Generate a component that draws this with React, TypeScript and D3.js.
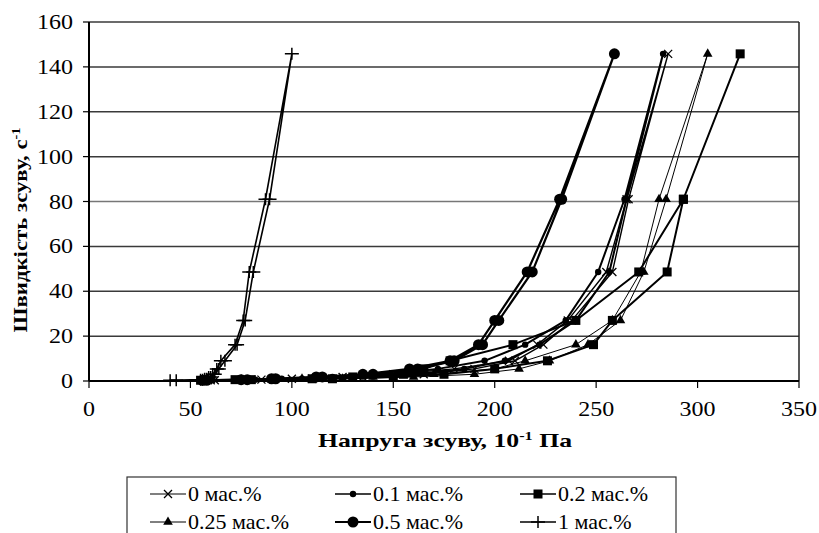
import React from 'react';
import * as d3 from 'd3';

// shear rates, s^-1 (up then down)
const rateUp = [0.333, 0.6, 1, 1.8, 3, 5.4, 9, 16.2, 27, 48.6, 81, 145.8];
const rateDown = [81, 48.6, 27, 16.2, 9, 5.4, 3, 1.8, 1, 0.6, 0.333];

// shear stress, 10^-1 Pa
const s0Up = [60, 80, 100, 125, 150, 180, 207, 221, 236, 255, 265, 285.5];
const s0Down = [266, 258, 238, 224, 210, 190, 165, 135, 110, 85, 62];
const s01Up = [58, 78, 95, 120, 145, 172, 195, 215, 235, 251, 264, 283];
const s01Down = [265, 256.5, 240, 222, 205, 185, 160, 130, 105, 82, 60];
const s02Up = [55, 72, 110, 130, 155, 165, 178, 209, 240, 271, 293, 321];
const s02Down = [293, 285, 258, 248.7, 226, 200, 175, 150, 120, 80, 57];
const s025Up = [57, 75, 105, 140, 170, 200, 215, 240, 258, 272, 281, 305];
const s025Down = [284.5, 273.5, 262, 246, 227, 212, 190, 160, 125, 90, 60];
const s05Up = [56, 75, 90, 112, 135, 158, 178, 192, 200, 216, 232, 259];
const s05Down = [233, 218.5, 202, 194, 180, 162, 140, 115, 92, 78, 58];
const s1Up = [40, 55, 57, 59, 61, 63, 65, 72, 76, 79, 87, 100];
const s1Down = [89, 81, 77, 73, 67, 64, 62, 60, 58, 56, 43];

const seriesNames = ['0 мас.%', '0.1 мас.%', '0.2 мас.%', '0.25 мас.%', '0.5 мас.%', '1 мас.%'];
const xTicks = [0, 50, 100, 150, 200, 250, 300, 350];
const yTicks = [0, 20, 40, 60, 80, 100, 120, 140, 160];

const W = 819;
const H = 533;
const serif = '"Liberation Serif", "Times New Roman", serif';

const x = d3.scaleLinear().domain([0, 350]).range([89, 799]);
const y = d3.scaleLinear().domain([0, 160]).range([381, 22]);

const build = (up: number[], down: number[]) => [
  ...up.map((s, i) => [s, rateUp[i]]),
  ...down.map((s, i) => [s, rateDown[i]]),
] as [number, number][];

const series = [
  { name: seriesNames[0], pts: build(s0Up, s0Down), marker: 'x', sw: 1.4 },
  { name: seriesNames[1], pts: build(s01Up, s01Down), marker: 'dot', sw: 2 },
  { name: seriesNames[2], pts: build(s02Up, s02Down), marker: 'square', sw: 2 },
  { name: seriesNames[3], pts: build(s025Up, s025Down), marker: 'tri', sw: 1 },
  { name: seriesNames[4], pts: build(s05Up, s05Down), marker: 'circle', sw: 2.2 },
  { name: seriesNames[5], pts: build(s1Up, s1Down), marker: 'plus', sw: 1.6 },
];

const Marker = ({ type, cx, cy }: { type: string; cx: number; cy: number }) => {
  const t = `translate(${cx},${cy})`;
  if (type === 'x') return <path transform={t} d="M-4,-4L4,4M-4,4L4,-4" stroke="#000" strokeWidth={1.3} fill="none" />;
  if (type === 'plus') return <path transform={t} d="M-7,0H7M0,-6V6" stroke="#000" strokeWidth={1.5} fill="none" />;
  if (type === 'dot') return <circle cx={cx} cy={cy} r={3.2} fill="#000" />;
  if (type === 'circle') return <circle cx={cx} cy={cy} r={5.5} fill="#000" />;
  if (type === 'square') return <rect x={cx - 4.5} y={cy - 4.5} width={9} height={9} fill="#000" />;
  const tri = d3.symbol().type(d3.symbolTriangle).size(40)();
  return <path transform={t} d={tri || ''} fill="#000" />;
};

export default function App() {
  const line = d3.line<[number, number]>().x(d => x(d[0])).y(d => y(d[1]));
  const legendCols = [150, 335, 520];
  const legendRows = [494, 522];

  return (
    <svg width={W} height={H} style={{ position: 'absolute', left: 0, top: 0, background: '#fff' }} fontFamily={serif}>
      <rect width={W} height={H} fill="#fff" />
      {/* grid */}
      {yTicks.map(t => (
        <line key={t} x1={x(0)} x2={x(350)} y1={y(t)} y2={y(t)} stroke={t === 80 ? '#777' : '#3a3a3a'} strokeWidth={1.5} />
      ))}
      <line x1={x(350)} x2={x(350)} y1={y(160)} y2={y(0)} stroke="#222" strokeWidth={1.5} />
      {/* axes */}
      <line x1={x(0)} x2={x(0)} y1={y(160)} y2={y(0)} stroke="#000" strokeWidth={2} />
      <line x1={x(0)} x2={x(350)} y1={y(0)} y2={y(0)} stroke="#000" strokeWidth={2} />
      {yTicks.map(t => (
        <g key={t}>
          <line x1={x(0) - 6} x2={x(0)} y1={y(t)} y2={y(t)} stroke="#000" strokeWidth={1.2} />
          <text x={73} y={y(t) + 7} textAnchor="end" fontSize={21}
            textLength={String(t).length * 12} lengthAdjust="spacingAndGlyphs">{t}</text>
        </g>
      ))}
      {xTicks.map(t => (
        <g key={t}>
          <line x1={x(t)} x2={x(t)} y1={y(0)} y2={y(0) + 7} stroke="#000" strokeWidth={1.2} />
          <text x={x(t)} y={416} textAnchor="middle" fontSize={21}
            textLength={String(t).length * 12} lengthAdjust="spacingAndGlyphs">{t}</text>
        </g>
      ))}
      {/* series */}
      {series.map(s => (
        <g key={s.name}>
          <path d={line(s.pts) || ''} fill="none" stroke="#000" strokeWidth={s.sw} strokeLinejoin="round" />
          {s.pts.map((p, i) => (
            <Marker key={i} type={s.marker} cx={x(p[0])} cy={y(p[1])} />
          ))}
        </g>
      ))}
      {/* axis titles */}
      <text x={445} y={447} textAnchor="middle" fontSize={19} fontWeight="bold"
        textLength={254} lengthAdjust="spacingAndGlyphs">
        Напруга зсуву, 10<tspan fontSize={12} dy={-7}>-1</tspan><tspan dy={7}> Па</tspan>
      </text>
      <text transform="translate(27,230) rotate(-90)" textAnchor="middle" fontSize={19} fontWeight="bold"
        textLength={205} lengthAdjust="spacingAndGlyphs">
        Швидкість зсуву, с<tspan fontSize={12} dy={-7}>-1</tspan>
      </text>
      {/* legend */}
      <rect x={127} y={477} width={549} height={70} fill="#fff" stroke="#333" strokeWidth={1.2} />
      {series.map((s, i) => {
        const lx = legendCols[i % 3];
        const ly = legendRows[Math.floor(i / 3)];
        return (
          <g key={s.name}>
            <line x1={lx} x2={lx + 36} y1={ly} y2={ly} stroke="#000" strokeWidth={Math.max(1, s.sw * 0.8)} />
            <Marker type={s.marker} cx={lx + 18} cy={ly} />
            <text transform={`translate(${lx + 38},${ly + 7}) scale(1.1,1)`} fontSize={20}>{s.name}</text>
          </g>
        );
      })}
    </svg>
  );
}
